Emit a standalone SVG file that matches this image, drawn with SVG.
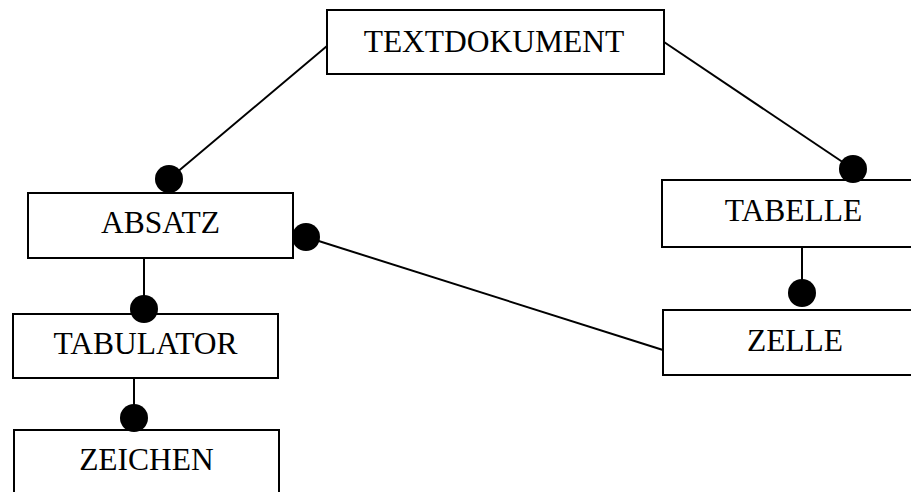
<svg xmlns="http://www.w3.org/2000/svg" width="911" height="492" viewBox="0 0 911 492">
<style>
.box{fill:#fff;stroke:#000;stroke-width:2}
.lbl{font-family:"Liberation Serif","Times New Roman",serif;font-size:31.5px;fill:#000;text-anchor:middle}
.ln{stroke:#000;stroke-width:2;fill:none}
.dot{fill:#000}
</style>
<rect width="911" height="492" fill="#fff"/>
<g id="connectors">
<line class="ln" x1="327" y1="46" x2="169" y2="179"/>
<line class="ln" x1="664" y1="42" x2="853" y2="169"/>
<line class="ln" x1="306" y1="237" x2="663" y2="350"/>
<line class="ln" x1="144" y1="258" x2="144" y2="309"/>
<line class="ln" x1="134" y1="378" x2="134" y2="418"/>
<line class="ln" x1="802" y1="247" x2="802" y2="293"/>
</g>
<g id="TEXTDOKUMENT"><rect class="box" x="327" y="10" width="337" height="64"/><text class="lbl" x="494" y="52">TEXTDOKUMENT</text></g>
<g id="ABSATZ"><rect class="box" x="28" y="193" width="265" height="65"/><text class="lbl" x="160.5" y="233">ABSATZ</text></g>
<g id="TABULATOR"><rect class="box" x="13" y="314" width="265" height="64"/><text class="lbl" x="145.5" y="354">TABULATOR</text></g>
<g id="ZEICHEN"><rect class="box" x="14" y="430" width="265" height="80"/><text class="lbl" x="146.5" y="470">ZEICHEN</text></g>
<g id="TABELLE"><rect class="box" x="662" y="180" width="263" height="67"/><text class="lbl" x="793.5" y="221">TABELLE</text></g>
<g id="ZELLE"><rect class="box" x="663" y="310" width="263" height="65"/><text class="lbl" x="795" y="351">ZELLE</text></g>
<g id="dots">
<circle class="dot" cx="169" cy="179" r="14"/>
<circle class="dot" cx="853" cy="169" r="14"/>
<circle class="dot" cx="306" cy="237" r="14"/>
<circle class="dot" cx="144" cy="309" r="14"/>
<circle class="dot" cx="134" cy="418" r="14"/>
<circle class="dot" cx="802" cy="293" r="14"/>
</g>
</svg>
